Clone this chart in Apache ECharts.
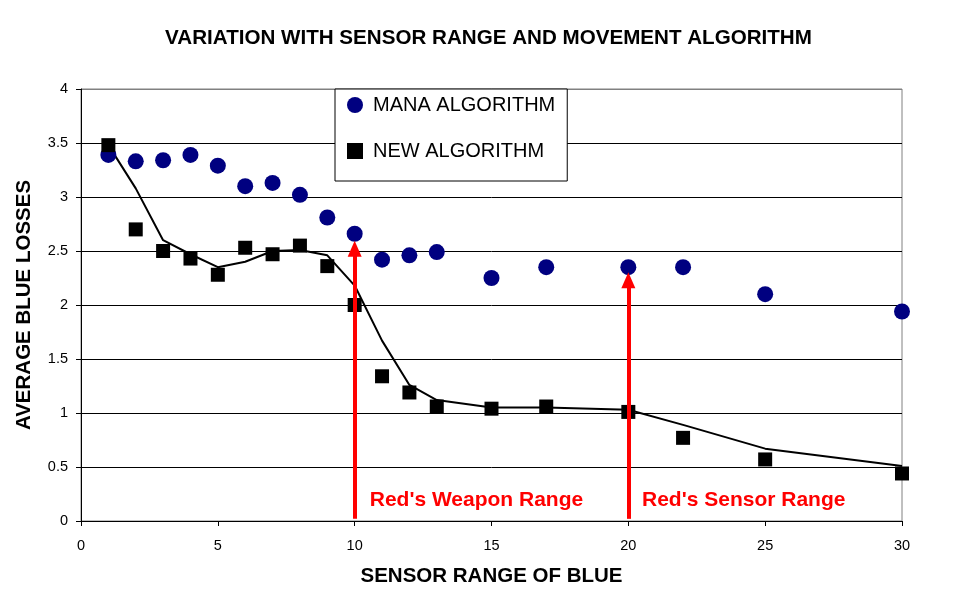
<!DOCTYPE html>
<html>
<head>
<meta charset="utf-8">
<script src="https://cdn.jsdelivr.net/npm/echarts@6/dist/echarts.min.js"></script>
<style>
  html, body { margin: 0; padding: 0; background: #fff; }
  #chart { width: 977px; height: 600px; }
</style>
</head>
<body>
<div id="chart"></div>
<script>
(function () {
  const sensorRange = [1, 2, 3, 4, 5, 6, 7, 8, 9, 10, 11, 12, 13, 15, 17, 20, 22, 25, 30];
  const manaLosses = [3.39, 3.33, 3.34, 3.39, 3.29, 3.10, 3.13, 3.02, 2.81, 2.66, 2.42, 2.46, 2.49, 2.25, 2.35, 2.35, 2.35, 2.10, 1.94];
  const newLosses = [3.48, 2.70, 2.50, 2.43, 2.28, 2.53, 2.47, 2.55, 2.36, 2.00, 1.34, 1.19, 1.06, 1.04, 1.06, 1.01, 0.77, 0.57, 0.44];
  const trendLosses = [3.48, 3.08, 2.60, 2.47, 2.35, 2.40, 2.50, 2.51, 2.46, 2.18, 1.67, 1.26, 1.12, 1.05, 1.05, 1.03, 0.89, 0.67, 0.51];

  // red arrows: x position, arrow tip height
  const arrowX = [10, 20];
  const arrowTip = [2.52, 2.23];
  const noteX = [10.55, 20.5];
  const noteY = [0.195, 0.195];
  const noteText = ["Red's Weapon Range", "Red's Sensor Range"];

  const font = '"Liberation Sans", Arial, sans-serif';
  const zip = (xs, ys) => xs.map((x, i) => [x, ys[i]]);

  const chart = echarts.init(document.getElementById('chart'));

  chart.setOption({
    animation: false,
    backgroundColor: '#fff',
    textStyle: { fontFamily: font, color: '#000' },
    title: {
      text: 'VARIATION WITH SENSOR RANGE AND MOVEMENT ALGORITHM',
      left: 'center',
      top: 23,
      textStyle: { fontFamily: font, fontSize: 20.6, fontWeight: 'bold', color: '#000' },
    },
    legend: {
      orient: 'vertical',
      left: 335,
      top: 89,
      padding: [6, 12, 20, 12],
      itemWidth: 16,
      itemHeight: 16,
      itemGap: 26,
      borderColor: '#000',
      borderWidth: 1,
      backgroundColor: '#fff',
      data: [
        { name: 'MANA ALGORITHM', icon: 'circle' },
        { name: 'NEW ALGORITHM', icon: 'rect' },
      ],
      textStyle: { fontFamily: font, fontSize: 20, color: '#000', padding: [0, 0, 0, 5] },
    },
    grid: {
      left: 81,
      right: 75,
      top: 89,
      bottom: 79,
      outerBoundsMode: 'none',
      containLabel: false,
      show: true,
      borderColor: '#808080',
      borderWidth: 1,
      backgroundColor: '#fff',
    },
    xAxis: {
      type: 'value',
      min: 0,
      max: 30,
      interval: 5,
      name: 'SENSOR RANGE OF BLUE',
      nameLocation: 'middle',
      nameGap: 45,
      nameTextStyle: { fontFamily: font, fontSize: 20.5, fontWeight: 'bold', color: '#000' },
      axisLine: { lineStyle: { color: '#000', width: 1 } },
      axisTick: { show: true, length: 5, lineStyle: { color: '#000' } },
      axisLabel: { fontFamily: font, fontSize: 14.5, color: '#000', margin: 17 },
      splitLine: { show: false },
    },
    yAxis: {
      type: 'value',
      min: 0,
      max: 4,
      interval: 0.5,
      name: 'AVERAGE BLUE LOSSES',
      nameLocation: 'middle',
      nameGap: 46,
      nameTextStyle: { fontFamily: font, fontSize: 20.5, fontWeight: 'bold', color: '#000' },
      axisLine: { show: true, lineStyle: { color: '#000', width: 1 } },
      axisTick: { show: true, length: 5, lineStyle: { color: '#000' } },
      axisLabel: { fontFamily: font, fontSize: 14.5, color: '#000', margin: 13 },
      splitLine: {
        show: true,
        lineStyle: {
          color: ['#000', '#000', '#000', '#000', '#000', '#000', '#000', '#000', '#808080'],
          width: 1,
        },
      },
    },
    series: [
      {
        name: 'trend',
        type: 'line',
        data: zip(sensorRange, trendLosses),
        showSymbol: false,
        symbol: 'none',
        lineStyle: { color: '#000', width: 2 },
        z: 2,
        silent: true,
        markLine: {
          silent: true,
          symbol: ['none', 'triangle'],
          symbolSize: [14, 16],
          label: { show: false },
          lineStyle: { color: '#ff0000', width: 4, type: 'solid', opacity: 1 },
          data: arrowX.map((x, i) => [
            { coord: [x, 0.02] },
            { coord: [x, arrowTip[i]] },
          ]),
        },
      },
      {
        name: 'MANA ALGORITHM',
        type: 'scatter',
        data: zip(sensorRange, manaLosses),
        symbol: 'circle',
        symbolSize: 16,
        itemStyle: { color: '#000080', opacity: 1 },
        z: 4,
      },
      {
        name: 'NEW ALGORITHM',
        type: 'scatter',
        data: zip(sensorRange, newLosses),
        symbol: 'rect',
        symbolSize: 14,
        itemStyle: { color: '#000', opacity: 1 },
        z: 4,
      },
      {
        name: 'notes',
        type: 'scatter',
        data: noteX.map((x, i) => ({ value: [x, noteY[i]], name: noteText[i] })),
        symbolSize: 0,
        silent: true,
        itemStyle: { opacity: 1 },
        label: {
          show: true,
          position: 'right',
          distance: 0,
          formatter: (p) => p.name,
          fontFamily: font,
          fontSize: 21,
          fontWeight: 'bold',
          color: '#ff0000',
          opacity: 1,
        },
        z: 5,
      },
    ],
  });

  window.addEventListener('resize', () => chart.resize());
})();
</script>
</body>
</html>
